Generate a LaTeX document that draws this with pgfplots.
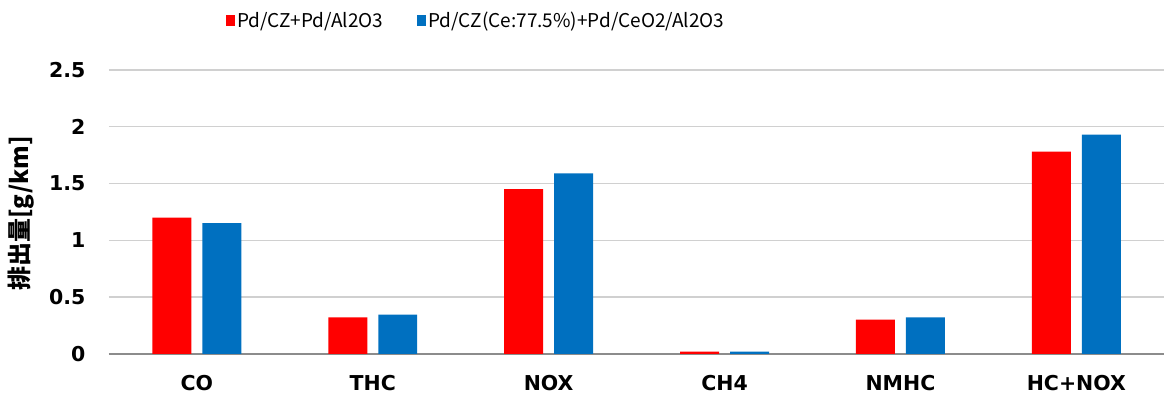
\documentclass[border=0pt]{standalone}
\usepackage{pgfplots}
\pgfplotsset{compat=1.18}
\usepackage{fontspec}
\setmainfont{Noto Sans CJK JP}
\newfontfamily\tickfont{DejaVu Sans}
\definecolor{cred}{HTML}{FF0000}
\definecolor{cblue}{HTML}{0070C0}
\definecolor{gridc}{HTML}{D0D0D0}
\definecolor{axc}{HTML}{8C8C8C}
\begin{document}
\begin{tikzpicture}
\path (-109pt,-49pt) rectangle (1056pt,354pt);
\begin{axis}[
  at={(0,0)}, anchor=south west,
  scale only axis,
  width=1056pt, height=284pt,
  xmin=-0.5, xmax=5.5,
  ymin=0, ymax=2.5,
  ytick={0,0.5,1,1.5,2,2.5},
  yticklabels={0,0.5,1,1.5,2,2.5},
  xtick={0,1,2,3,4,5},
  xticklabels={CO,THC,NOX,CH4,NMHC,HC+NOX},
  major tick length=0pt,
  ymajorgrids,
  grid style={gridc, line width=1.3pt},
  axis x line*=bottom,
  axis y line*=left,
  y axis line style={draw=none},
  x axis line style={axc, line width=1.5pt, -},
  ticklabel style={font=\tickfont\fontsize{20.5}{23}\selectfont\bfseries},
  yticklabel style={xshift=-20pt},
  xticklabel style={yshift=-18pt},
  ylabel={排出量[g/km]},
  ylabel style={at={(axis description cs:-0.083,0.495)}, rotate=0, anchor=center, font=\fontsize{24}{27}\selectfont\bfseries},
  ybar, bar width=39pt,
  legend columns=2,
  legend style={at={(axis description cs:0.348,1.173)}, anchor=center, draw=none,
    font=\fontsize{19}{22}\selectfont, /tikz/every even column/.append style={column sep=32pt}},
  legend image code/.code={\fill[#1] (0pt,-5.5pt) rectangle (9pt,5.5pt);},
]
\addplot[draw=none, fill=cred, bar shift=-25pt] coordinates {(0,1.20) (1,0.32) (2,1.45) (3,0.02) (4,0.30) (5,1.78)};
\addplot[draw=none, fill=cblue, bar shift=25pt] coordinates {(0,1.15) (1,0.345) (2,1.59) (3,0.02) (4,0.32) (5,1.93)};
\legend{Pd/CZ+Pd/Al2O3, Pd/CZ(Ce:77.5\%)+Pd/CeO2/Al2O3}
\end{axis}
\end{tikzpicture}
\end{document}
